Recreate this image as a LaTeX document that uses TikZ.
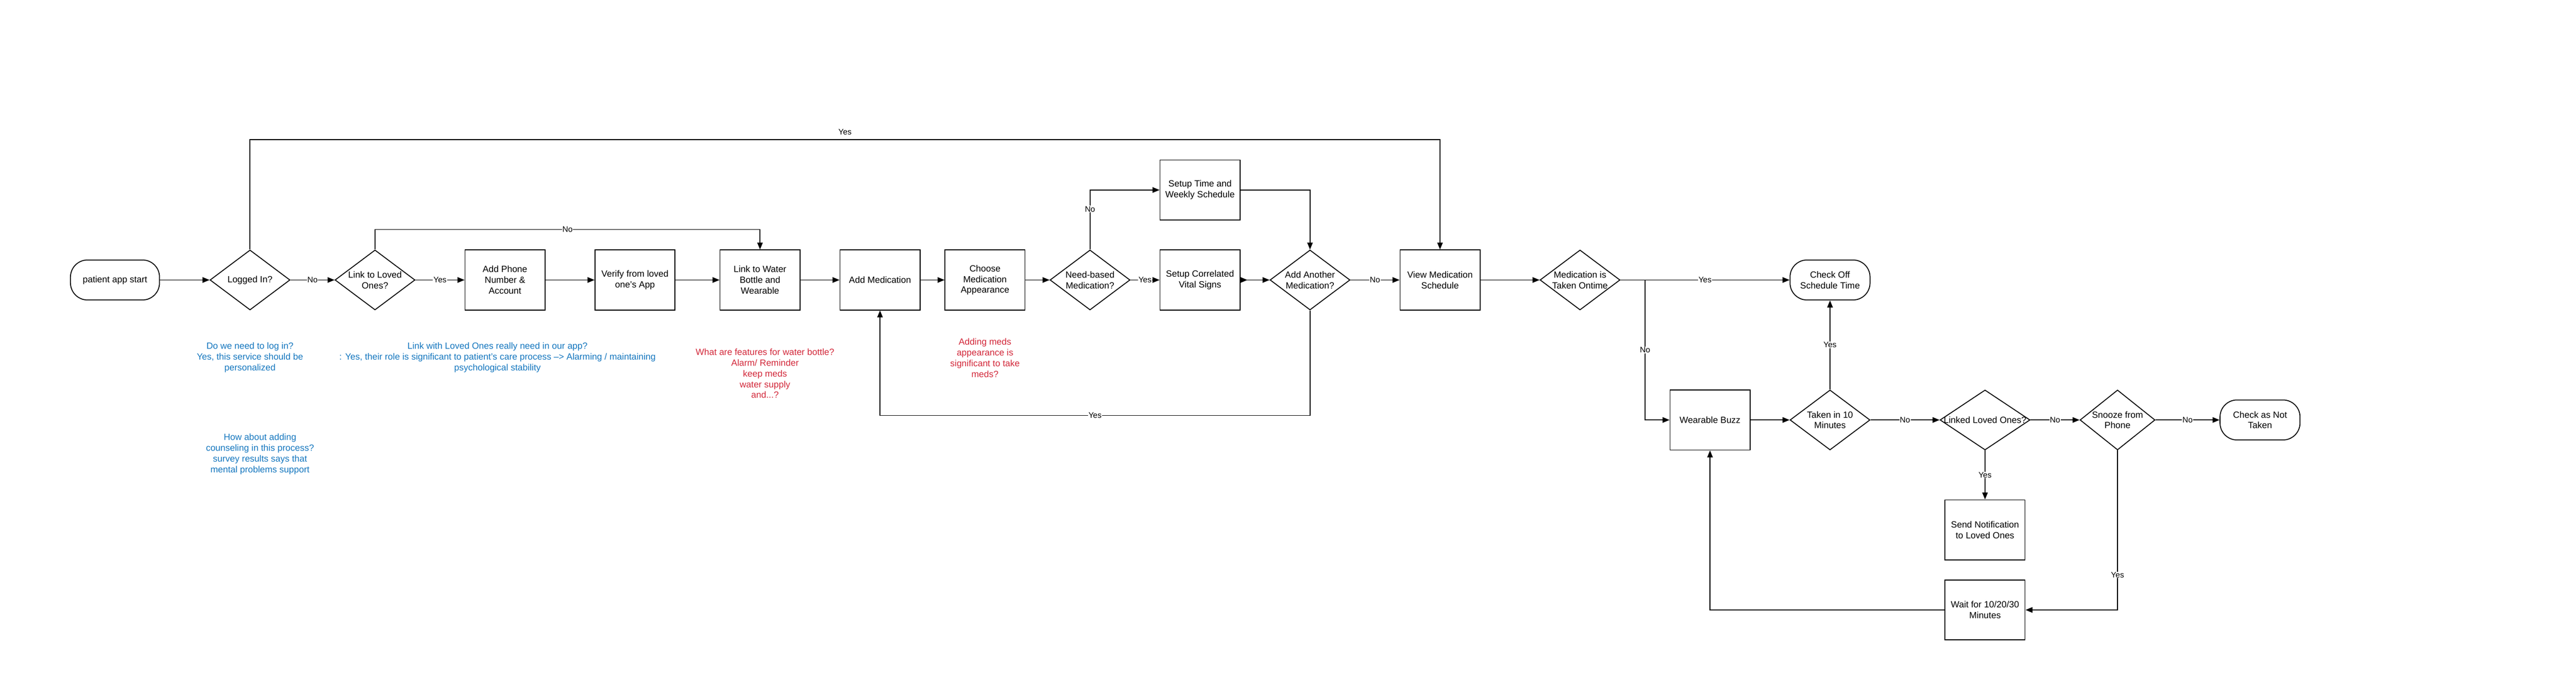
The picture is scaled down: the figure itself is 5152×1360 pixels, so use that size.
\documentclass[tikz,border=0pt]{standalone}
\usepackage{fontspec}
\setmainfont{Liberation Sans}
\usetikzlibrary{shapes.geometric, arrows.meta}

\definecolor{noteblue}{RGB}{20,118,190}
\definecolor{notered}{RGB}{210,40,58}

\tikzset{
  process/.style={draw, line width=1.8pt, minimum width=160pt, minimum height=120pt, inner sep=0pt, align=center},
  terminal/.style={draw, line width=1.8pt, rounded corners=34pt, minimum width=160pt, minimum height=80pt, inner sep=0pt, align=center},
  decision/.style={draw, diamond, line width=1.8pt, minimum width=160pt, minimum height=120pt, inner sep=0pt},
  dtext/.style={align=center},
  lbl/.style={fill=white, inner sep=1pt, font=\fontsize{16pt}{19pt}\selectfont},
  note/.style={align=center},
}

\begin{document}
\begin{tikzpicture}[x=1pt, y=-1pt, line width=1.7pt, >={Triangle[length=14pt, width=11pt]},
    font=\fontsize{18pt}{21.5pt}\selectfont]
    \useasboundingbox (0,0) rectangle (5152,1360);

    % main row
    \node[terminal, minimum width=178pt] (start) at (230,560) {patient app start};
    \node[decision, label={[dtext]center:Logged In?}] (logged) at (500,560) {};
    \node[decision, label={[dtext]center:Link to Loved\\Ones?}] (lovedq) at (750,560) {};
    \node[process] (phone) at (1010,560) {Add Phone\\Number \&\\Account};
    \node[process] (verify) at (1270,560) {Verify from loved\\one's App};
    \node[process] (water) at (1520,560) {Link to Water\\Bottle and\\Wearable};
    \node[process] (addmed) at (1760,560) {Add Medication};
    \node[process] (appear) at (1970,560) {Choose\\Medication\\Appearance};
    \node[decision, label={[dtext]center:Need-based\\Medication?}] (needq) at (2180,560) {};
    \node[process] (vital) at (2400,560) {Setup Correlated\\Vital Signs};
    \node[process] (timesched) at (2400,380) {Setup Time and\\Weekly Schedule};
    \node[decision, label={[dtext]center:Add Another\\Medication?}] (anotherq) at (2620,560) {};
    \node[process] (viewsched) at (2880,560) {View Medication\\Schedule};
    \node[decision, label={[dtext]center:Medication is\\Taken Ontime}] (ontimeq) at (3160,560) {};
    \node[terminal] (checkoff) at (3660,560) {Check Off\\Schedule Time};

    % reminder row
    \node[process] (buzz) at (3420,840) {Wearable Buzz};
    \node[decision, label={[dtext]center:Taken in 10\\Minutes}] (takenq) at (3660,840) {};
    \node[decision, minimum width=180pt, label={[dtext]center:Linked Loved Ones?}] (linkedq) at (3970,840) {};
    \node[decision, minimum width=150pt, label={[dtext]center:Snooze from\\Phone}] (snoozeq) at (4235,840) {};
    \node[terminal] (notaken) at (4520,840) {Check as Not\\Taken};
    \node[process] (notify) at (3970,1060) {Send Notification\\to Loved Ones};
    \node[process] (wait) at (3970,1220) {Wait for 10/20/30\\Minutes};

    % notes
    \node[note, text=noteblue] (loginnote) at (500,715) {Do we need to log in?\\Yes, this service should be\\personalized};
    \node[note, text=noteblue] (lovednote) at (995,715) {Link with Loved Ones really need in our app?\\: Yes, their role is significant to patient's care process --> Alarming / maintaining\\psychological stability};
    \node[note, text=noteblue] (counselnote) at (520,908) {How about adding\\counseling in this process?\\survey results says that\\mental problems support};
    \node[note, text=notered] (waternote) at (1530,747) {What are features for water bottle?\\Alarm/ Reminder\\keep meds\\water supply\\and...?};
    \node[note, text=notered] (appearnote) at (1970,716) {Adding meds\\appearance is\\significant to take\\meds?};

    % connectors
    \draw[->] (start) -- (logged);
    \draw[->] (logged) -- node[lbl] {No} (lovedq);
    \draw[->] (logged.north) -- ++(0,-220) -| node[lbl, pos=0.25, above=8pt, fill=none] {Yes} (viewsched.north);
    \draw[->] (lovedq) -- node[lbl] {Yes} (phone);
    \draw[->] (lovedq.north) -- ++(0,-40) -| node[lbl, pos=0.25] {No} (water.north);
    \draw[->] (phone) -- (verify);
    \draw[->] (verify) -- (water);
    \draw[->] (water) -- (addmed);
    \draw[->] (addmed) -- (appear);
    \draw[->] (appear) -- (needq);
    \draw[->] (needq) -- node[lbl] {Yes} (vital);
    \draw[->] (needq.north) |- node[lbl, pos=0.34] {No} (timesched.west);
    \draw[->] (timesched.east) -| (anotherq.north);
    \draw[{Triangle[reversed, length=14pt, width=11pt]}->] (vital) -- (anotherq);
    \draw[->] (anotherq) -- node[lbl] {No} (viewsched);
    \draw[->] (anotherq.south) -- ++(0,210) -| node[lbl, pos=0.25] {Yes} (addmed.south);
    \draw[->] (viewsched) -- (ontimeq);
    \draw[->] (ontimeq) -- node[lbl] {Yes} (checkoff);
    \coordinate (split) at (3290,560);
    \draw[->] (split) |- node[lbl, pos=0.25] {No} (buzz.west);
    \draw[->] (buzz) -- (takenq);
    \draw[->] (takenq) -- node[lbl] {Yes} (checkoff);
    \draw[->] (takenq) -- node[lbl] {No} (linkedq);
    \draw[->] (linkedq) -- node[lbl] {No} (snoozeq);
    \draw[->] (snoozeq) -- node[lbl] {No} (notaken);
    \draw[->] (linkedq) -- node[lbl] {Yes} (notify);
    \draw[->] (snoozeq.south) |- node[lbl, pos=0.39] {Yes} (wait.east);
    \draw[->] (wait.west) -| (buzz.south);
\end{tikzpicture}
\end{document}
